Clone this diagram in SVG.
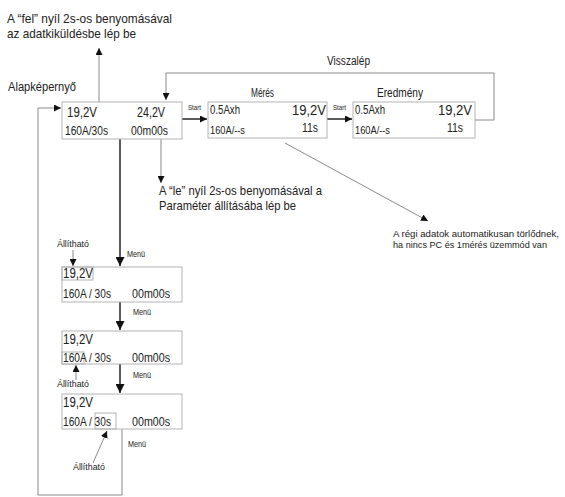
<svg xmlns="http://www.w3.org/2000/svg" width="565" height="497" viewBox="0 0 565 497">
<defs>
<style>
text{font-family:"Liberation Sans",Arial,sans-serif;fill:#222}
.box{fill:#fff;stroke:#b4b4b4;stroke-width:1}
.hl{fill:none;stroke:#b4b4b4;stroke-width:1}
.ln{fill:none;stroke:#8a8a8a;stroke-width:1}
.thk{fill:none;stroke:#333;stroke-width:1.6}
.big{font-size:14px}
.mid{font-size:12.5px}
.sm{font-size:7px}
.lbl{font-size:8.5px}
</style>
<marker id="ah" viewBox="0 0 10 10" refX="10" refY="5" markerWidth="7" markerHeight="7" markerUnits="userSpaceOnUse" orient="auto">
<path d="M0,0 L10,5 L0,10 z" fill="#111"/>
</marker>
<marker id="ahb" viewBox="0 0 10 10" refX="10" refY="5" markerWidth="9" markerHeight="9" markerUnits="userSpaceOnUse" orient="auto">
<path d="M0,0 L10,5 L0,10 z" fill="#111"/>
</marker>
</defs>
<rect width="565" height="497" fill="#fff"/>

<g id="connectors">
<polyline class="ln" points="122,429 122,495 38,495 38,108 61,108" marker-end="url(#ah)"/>
<line class="ln" x1="99" y1="102" x2="99" y2="48" marker-end="url(#ah)"/>
<polyline class="ln" points="475,120 494,120 494,73 166,73 166,100" marker-end="url(#ah)"/>
<line class="thk" x1="182" y1="119" x2="207" y2="119" marker-end="url(#ah)"/>
<line class="thk" x1="327" y1="119" x2="352" y2="119" marker-end="url(#ah)"/>
<line class="ln" x1="161" y1="139" x2="161" y2="183" marker-end="url(#ah)"/>
<line class="ln" x1="285" y1="143" x2="428" y2="221" stroke="#aaa" marker-end="url(#ah)"/>
<line class="thk" x1="120" y1="139" x2="120" y2="266" marker-end="url(#ahb)"/>
<line class="thk" x1="120" y1="302" x2="120" y2="330" marker-end="url(#ahb)"/>
<line class="thk" x1="120" y1="364" x2="120" y2="393" marker-end="url(#ahb)"/>
<line class="ln" x1="73" y1="250" x2="73" y2="266" marker-end="url(#ah)"/>
<line class="ln" x1="76" y1="380" x2="76" y2="365" marker-end="url(#ah)"/>
<line class="ln" x1="93" y1="463" x2="107" y2="431" marker-end="url(#ah)"/>
</g>

<g id="header-text">
<text x="7" y="23" style="font-size:13px" textLength="165" lengthAdjust="spacingAndGlyphs">A “fel” nyíl 2s-os benyomásával</text>
<text x="7" y="38" style="font-size:13px" textLength="129" lengthAdjust="spacingAndGlyphs">az adatkiküldésbe lép be</text>
<text x="8" y="91" style="font-size:13px" textLength="68" lengthAdjust="spacingAndGlyphs">Alapképernyő</text>
<text x="327" y="65" style="font-size:12px" textLength="43" lengthAdjust="spacingAndGlyphs">Visszalép</text>
</g>

<g id="alap">
<rect class="box" x="62" y="102" width="120" height="37"/>
<text class="big" x="67" y="117" textLength="30" lengthAdjust="spacingAndGlyphs">19,2V</text>
<text class="big" x="137" y="117" textLength="28" lengthAdjust="spacingAndGlyphs">24,2V</text>
<text class="mid" x="65" y="135" textLength="43" lengthAdjust="spacingAndGlyphs">160A/30s</text>
<text class="mid" x="131" y="135" textLength="37" lengthAdjust="spacingAndGlyphs">00m00s</text>
</g>

<g id="meres">
<text x="251" y="97" style="font-size:13px" textLength="23" lengthAdjust="spacingAndGlyphs">Mérés</text>
<text class="sm" x="188" y="110" textLength="13" lengthAdjust="spacingAndGlyphs">Start</text>
<rect class="box" x="208" y="102" width="119" height="36"/>
<text x="210" y="114" style="font-size:12px" textLength="30" lengthAdjust="spacingAndGlyphs">0.5Axh</text>
<text x="292" y="115" style="font-size:15px" textLength="34" lengthAdjust="spacingAndGlyphs">19,2V</text>
<text x="210" y="134" style="font-size:11.5px" textLength="35" lengthAdjust="spacingAndGlyphs">160A/--s</text>
<text x="302" y="132" style="font-size:12px" textLength="16" lengthAdjust="spacingAndGlyphs">11s</text>
</g>

<g id="eredmeny">
<text x="377" y="97" style="font-size:12.5px" textLength="46" lengthAdjust="spacingAndGlyphs">Eredmény</text>
<text class="sm" x="333" y="110" textLength="13" lengthAdjust="spacingAndGlyphs">Start</text>
<rect class="box" x="353" y="102" width="122" height="36"/>
<text x="355" y="114" style="font-size:12px" textLength="30" lengthAdjust="spacingAndGlyphs">0.5Axh</text>
<text x="438" y="115" style="font-size:15px" textLength="34" lengthAdjust="spacingAndGlyphs">19,2V</text>
<text x="355" y="134" style="font-size:11.5px" textLength="35" lengthAdjust="spacingAndGlyphs">160A/--s</text>
<text x="447" y="132" style="font-size:12px" textLength="16" lengthAdjust="spacingAndGlyphs">11s</text>
</g>

<g id="le-note">
<text x="159" y="195" style="font-size:13px" textLength="163" lengthAdjust="spacingAndGlyphs">A “le” nyíl 2s-os benyomásával a</text>
<text x="159" y="210" style="font-size:13px" textLength="137" lengthAdjust="spacingAndGlyphs">Paraméter állításába lép be</text>
</g>

<g id="regi-note">
<text x="393" y="237" style="font-size:9.5px" textLength="166" lengthAdjust="spacingAndGlyphs">A régi adatok automatikusan törlődnek,</text>
<text x="393" y="248" style="font-size:9.5px" textLength="154" lengthAdjust="spacingAndGlyphs">ha nincs PC és 1mérés üzemmód van</text>
</g>

<g id="menu1">
<text class="lbl" x="57" y="247" textLength="32" lengthAdjust="spacingAndGlyphs">Állítható</text>
<text class="lbl" x="127" y="257" textLength="18" lengthAdjust="spacingAndGlyphs">Menü</text>
<rect class="box" x="62" y="267" width="120" height="35"/>
<rect class="hl" x="62" y="267" width="31" height="13"/>
<text class="big" x="63" y="278" textLength="30" lengthAdjust="spacingAndGlyphs">19,2V</text>
<text class="mid" x="63" y="298" textLength="48" lengthAdjust="spacingAndGlyphs">160A / 30s</text>
<text class="mid" x="132" y="298" textLength="38" lengthAdjust="spacingAndGlyphs">00m00s</text>
</g>

<g id="menu2">
<text class="lbl" x="133" y="315" textLength="18" lengthAdjust="spacingAndGlyphs">Menü</text>
<rect class="box" x="62" y="331" width="120" height="33"/>
<rect class="hl" x="62" y="352" width="22" height="12"/>
<text class="big" x="63" y="344" textLength="30" lengthAdjust="spacingAndGlyphs">19,2V</text>
<text class="mid" x="63" y="362" textLength="48" lengthAdjust="spacingAndGlyphs">160A / 30s</text>
<text class="mid" x="132" y="362" textLength="38" lengthAdjust="spacingAndGlyphs">00m00s</text>
<text class="lbl" x="57" y="387" textLength="32" lengthAdjust="spacingAndGlyphs">Állítható</text>
<text class="lbl" x="133" y="378" textLength="18" lengthAdjust="spacingAndGlyphs">Menü</text>
</g>

<g id="menu3">
<rect class="box" x="62" y="394" width="120" height="35"/>
<rect class="hl" x="95" y="413" width="21" height="16"/>
<text class="big" x="63" y="407" textLength="30" lengthAdjust="spacingAndGlyphs">19,2V</text>
<text class="mid" x="63" y="426" textLength="48" lengthAdjust="spacingAndGlyphs">160A / 30s</text>
<text class="mid" x="132" y="426" textLength="38" lengthAdjust="spacingAndGlyphs">00m00s</text>
<text class="lbl" x="128" y="447" textLength="18" lengthAdjust="spacingAndGlyphs">Menü</text>
<text class="lbl" x="73" y="470" textLength="32" lengthAdjust="spacingAndGlyphs">Állítható</text>
</g>
</svg>
